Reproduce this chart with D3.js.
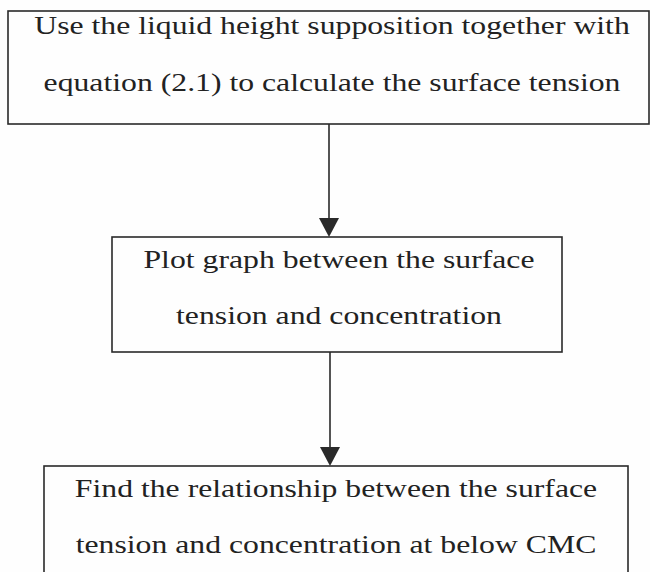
<!DOCTYPE html>
<html>
<head>
<meta charset="utf-8">
<script src="https://cdn.jsdelivr.net/npm/d3@7"></script>
<style>
  html, body { margin: 0; padding: 0; background: #fefefe; }
  svg { display: block; }
</style>
</head>
<body>
<svg width="650" height="572"></svg>
<script>
// Flowchart steps, top to bottom (two text lines each)
const stepLines1 = [
    "Use the liquid height supposition together with",
    "Plot graph between the surface",
    "Find the relationship between the surface"
];
const stepLines2 = [
    "equation (2.1) to calculate the surface tension",
    "tension and concentration",
    "tension and concentration at below CMC"
];
// arrows connect step i -> step i+1
const links = [[0, 1], [1, 2]];

const svg = d3.select("svg");

// layout of each box (left, right, top, bottom), text centre and baselines
const layout = [
    { x0: 8,   x1: 649, y0: 11,  y1: 124, tx: 332, b1: 34,  b2: 91 },
    { x0: 112, x1: 562, y0: 237, y1: 352, tx: 339, b1: 268, b2: 324 },
    { x0: 44,  x1: 628, y0: 466, y1: 610, tx: 336, b1: 497, b2: 553 }
];
const arrowX = [329, 330];

const steps = stepLines1.map((l1, i) => ({ l1: l1, l2: stepLines2[i], box: layout[i] }));

const ink = "#2a2a2a";
const fontSize = 26;
const stretchX = 1.22; // scanned text is a bit wider than tall

// Boxes
svg.selectAll(".box")
    .data(steps)
    .enter()
    .append("rect")
    .attr("class", "box")
    .attr("x", d => d.box.x0)
    .attr("y", d => d.box.y0)
    .attr("width", d => d.box.x1 - d.box.x0)
    .attr("height", d => d.box.y1 - d.box.y0)
    .attr("fill", "none")
    .attr("stroke", ink)
    .attr("stroke-width", 1.6);

// Text lines
let lines = [];
steps.forEach(d => {
    lines.push({ text: d.l1, x: d.box.tx, y: d.box.b1 });
    lines.push({ text: d.l2, x: d.box.tx, y: d.box.b2 });
});
svg.selectAll(".label")
    .data(lines)
    .enter()
    .append("text")
    .attr("class", "label")
    .attr("transform", d => `translate(${d.x},${d.y}) scale(${stretchX},1)`)
    .attr("text-anchor", "middle")
    .attr("font-family", "'Liberation Serif', 'Times New Roman', serif")
    .attr("font-size", fontSize)
    .attr("fill", "#222")
    .text(d => d.text);

// Arrows
const headH = 19, headW = 10;
let arrows = links.map((l, i) => ({
    x: arrowX[i],
    y1: layout[l[0]].y1,
    y2: layout[l[1]].y0
}));

svg.selectAll(".shaft")
    .data(arrows)
    .enter()
    .append("line")
    .attr("class", "shaft")
    .attr("x1", d => d.x)
    .attr("x2", d => d.x)
    .attr("y1", d => d.y1)
    .attr("y2", d => d.y2 - headH)
    .attr("stroke", ink)
    .attr("stroke-width", 1.6);

svg.selectAll(".head")
    .data(arrows)
    .enter()
    .append("path")
    .attr("class", "head")
    .attr("d", d => `M ${d.x - headW},${d.y2 - headH}L ${d.x + headW},${d.y2 - headH}L ${d.x},${d.y2}Z`)
    .attr("fill", ink);
</script>
</body>
</html>
